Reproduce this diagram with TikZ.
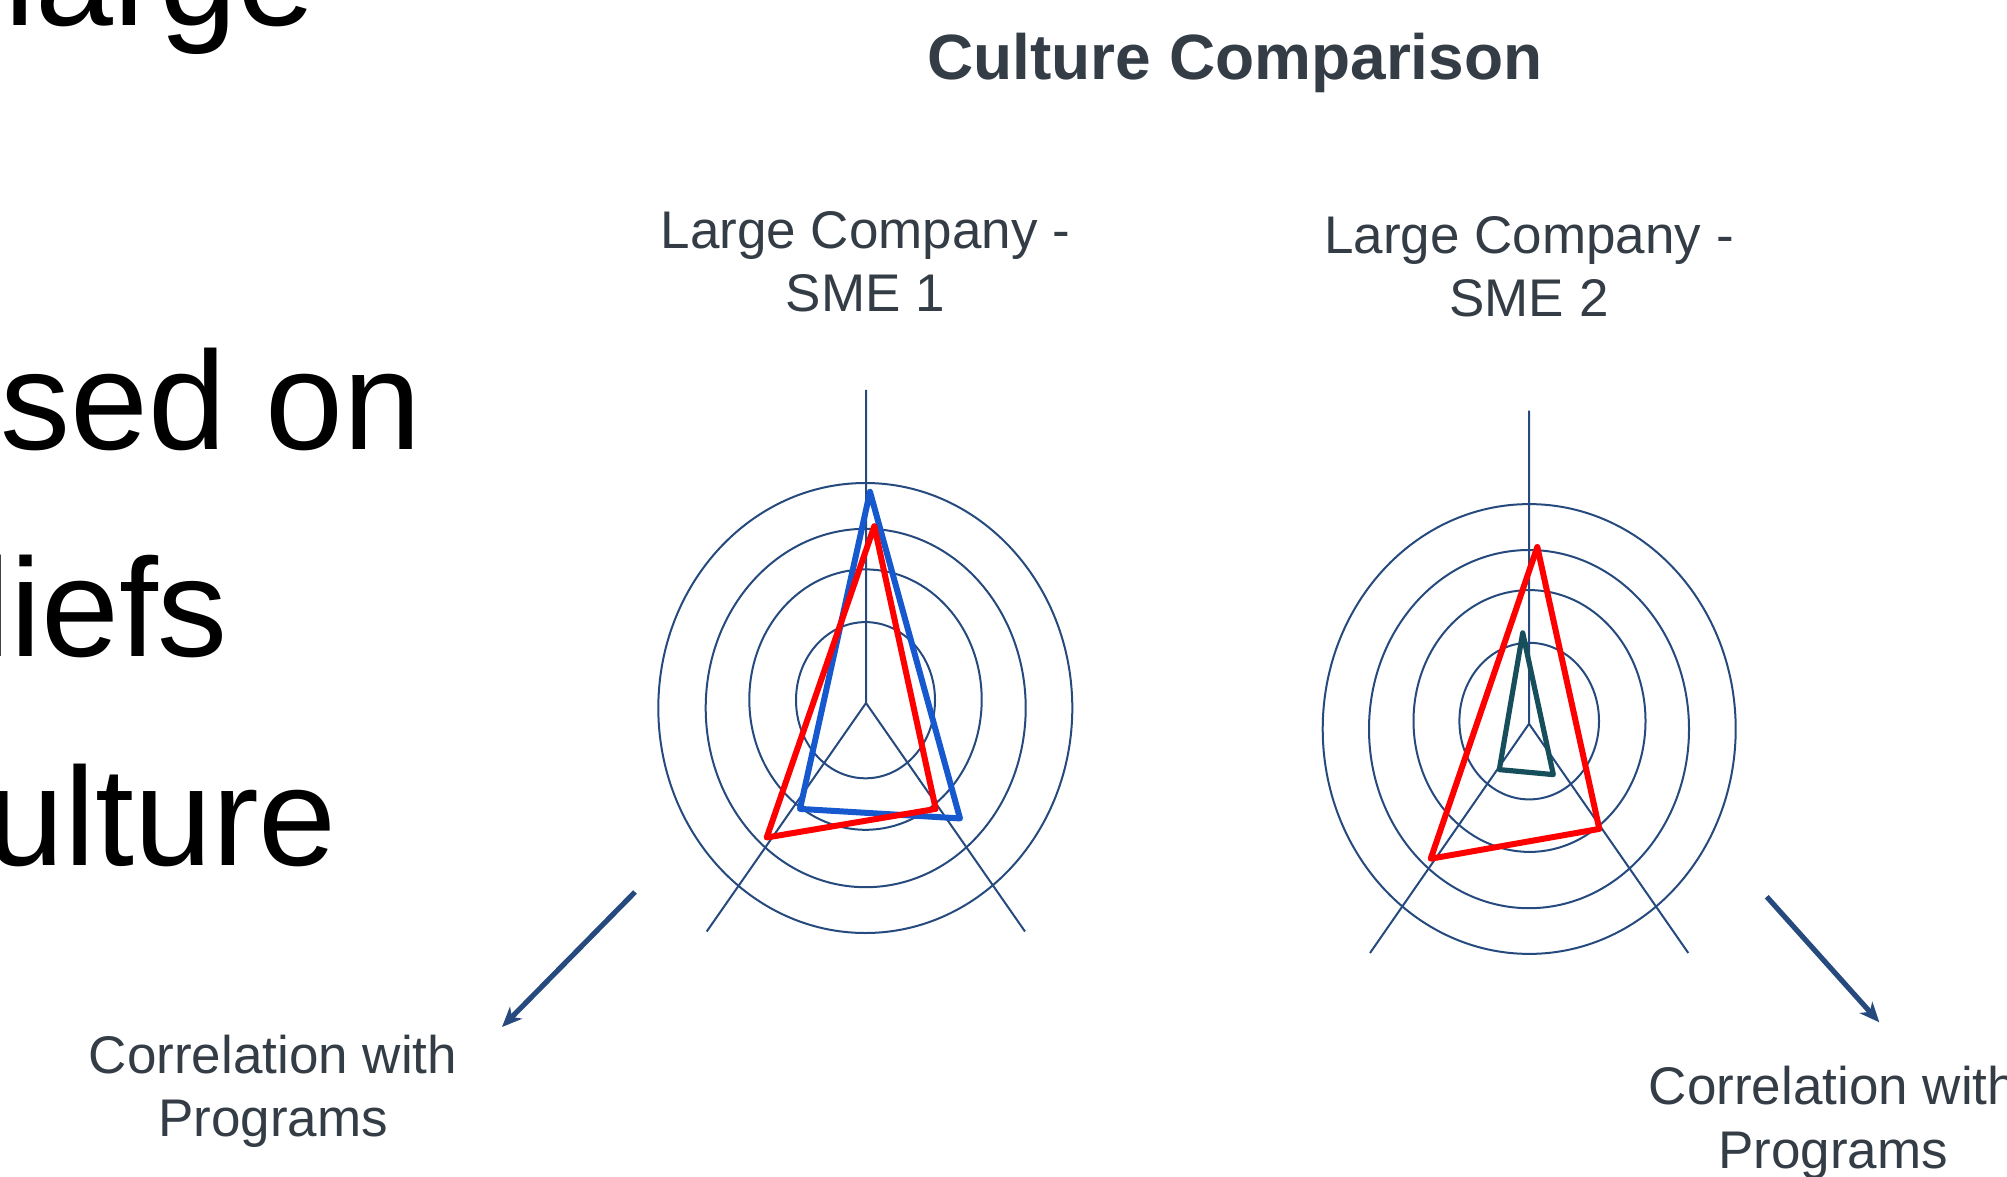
\documentclass[tikz,border=0pt]{standalone}
\usepackage{fontspec}
\setmainfont{Liberation Sans}
\usetikzlibrary{arrows.meta}
\definecolor{navy}{RGB}{38,74,125}
\definecolor{slate}{RGB}{52,61,70}
\definecolor{tblue}{RGB}{22,88,206}
\definecolor{tred}{RGB}{255,0,0}
\definecolor{tteal}{RGB}{22,78,92}
\tikzset{
  ring/.style={draw=navy,line width=1pt},
  axisline/.style={draw=navy,line width=1pt},
  tri/.style={line width=3pt,line join=round},
  bigtext/.style={anchor=base east,inner sep=0pt,text=black,font=\fontsize{70}{84}\selectfont},
  lbl/.style={anchor=base,inner sep=0pt,text=slate,align=center,font=\fontsize{26.5}{31.7}\selectfont},
  ttl/.style={anchor=base,inner sep=0pt,text=slate,font=\bfseries\fontsize{32}{38}\selectfont},
  arr/.style={draw=navy,line width=2.6pt,-{Stealth[length=10pt,width=8.5pt,inset=3pt]}}
}
\begin{document}
\begin{tikzpicture}[x=0.5pt,y=-0.5pt]
\useasboundingbox (0,0) rectangle (2007,1177);
\clip (0,0) rectangle (2007,1177);
\fill[white] (0,0) rectangle (2007,1177);

% left cut-off body text
\node[bigtext] (t1) at (316,26) {large};
\node[bigtext] (t2) at (421.5,449.5) {sed on};
\node[bigtext] (t3) at (228.4,656) {liefs};
\node[bigtext] (t4) at (337,865) {ulture};

% title
\node[ttl] (title) at (1235,80) {Culture Comparison};

% chart labels (base anchor = baseline of last line)
\node[lbl] (l1) at (865.5,311.7) {Large Company -\\SME 1};
\node[lbl] (l2) at (1529,316.7) {Large Company -\\SME 2};
\node[lbl] (p1) at (273,1136.7) {Correlation with\\Programs};
\node[lbl] (p2) at (1833,1168.3) {Correlation with\\Programs};

% ---------- left chart ----------
\coordinate (c1) at (866,703);
\coordinate (c1t) at (866,389.8);
\coordinate (c1l) at (706.7,931.5);
\coordinate (c1r) at (1025,931.5);
\draw[ring] (865.5,700.2) ellipse [x radius=69.5, y radius=78.1];
\draw[ring] (865.5,699.6) ellipse [x radius=116.2, y radius=130.2];
\draw[ring] (865.7,708) ellipse [x radius=160, y radius=179.2];
\draw[ring] (865.3,708) ellipse [x radius=207, y radius=225];
\draw[axisline] (c1t) -- (c1) (c1) -- (c1l) (c1) -- (c1r);
\coordinate (b1) at (870,491.8);
\coordinate (b2) at (800,808.9);
\coordinate (b3) at (960,818.4);
\draw[tri,tblue] (b1) -- (b2) -- (b3) -- cycle;
\coordinate (r1) at (874.3,526.2);
\coordinate (r2) at (766.7,837.5);
\coordinate (r3) at (935.7,808.9);
\draw[tri,tred] (r1) -- (r2) -- (r3) -- cycle;

% ---------- right chart ----------
\coordinate (c2) at (1529,723.8);
\coordinate (c2t) at (1529,410.6);
\coordinate (c2l) at (1370,953);
\coordinate (c2r) at (1688.3,953);
\draw[ring] (1529.2,721.1) ellipse [x radius=69.8, y radius=78.3];
\draw[ring] (1529.5,721) ellipse [x radius=116, y radius=130.9];
\draw[ring] (1529,729.1) ellipse [x radius=160, y radius=179.1];
\draw[ring] (1529.2,729) ellipse [x radius=206.5, y radius=224.9];
\draw[axisline] (c2t) -- (c2) (c2) -- (c2l) (c2) -- (c2r);
\coordinate (s1) at (1537.3,547);
\coordinate (s2) at (1430.7,858.7);
\coordinate (s3) at (1599.3,828.9);
\draw[tri,tred] (s1) -- (s2) -- (s3) -- cycle;
\coordinate (g1) at (1522.7,632.9);
\coordinate (g2) at (1499.3,769.6);
\coordinate (g3) at (1553.3,774.6);
\draw[tri,tteal,line width=2.6pt] (g1) -- (g2) -- (g3) -- cycle;

% arrows
\coordinate (a1s) at (635,892);
\coordinate (a1e) at (502,1027);
\draw[arr] (a1s) -- (a1e);
\coordinate (a2s) at (1766.7,896.7);
\coordinate (a2e) at (1879.3,1022.3);
\draw[arr] (a2s) -- (a2e);
\end{tikzpicture}
\end{document}
